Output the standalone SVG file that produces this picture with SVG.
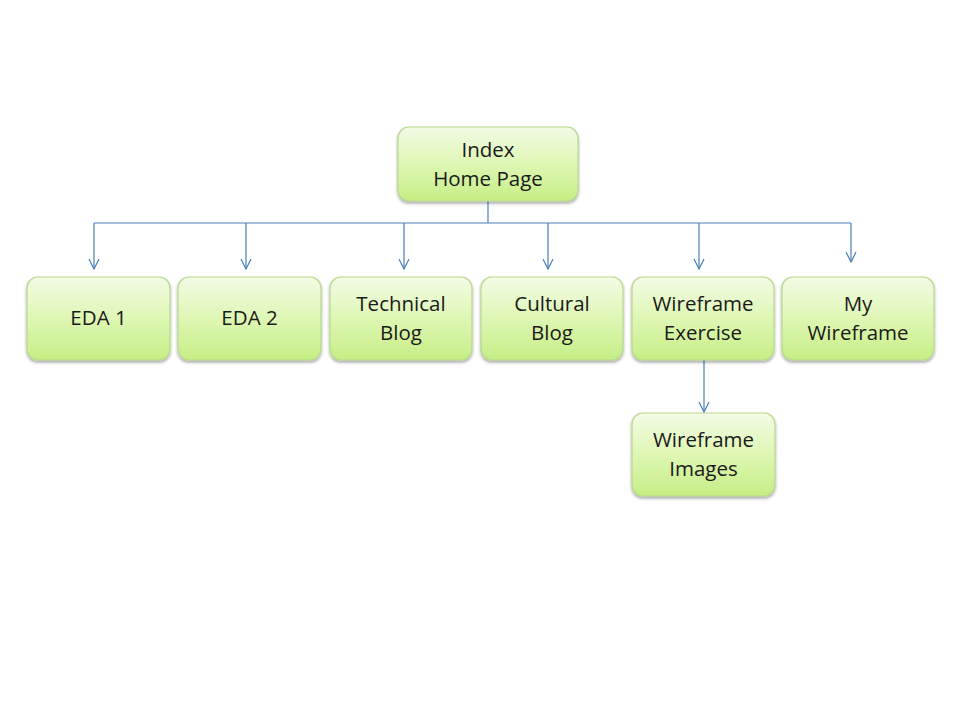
<svg xmlns="http://www.w3.org/2000/svg" width="960" height="720" viewBox="0 0 960 720">
<defs>
<linearGradient id="g" x1="0" y1="0" x2="0" y2="1">
<stop offset="0" stop-color="#f3fbe6"/>
<stop offset="0.5" stop-color="#def7b4"/>
<stop offset="1" stop-color="#c6ee84"/>
</linearGradient>
<filter id="sh" x="-10%" y="-10%" width="120%" height="130%">
<feDropShadow dx="0" dy="2" stdDeviation="1.5" flood-color="#000" flood-opacity="0.35"/>
</filter>
<marker id="a" viewBox="0 0 12 12" refX="11" refY="6" markerWidth="12" markerHeight="12" markerUnits="userSpaceOnUse" orient="auto">
<path d="M1,1 L11,6 L1,11" fill="none" stroke="#4a7ebb" stroke-width="1.2"/>
</marker>
</defs>
<style>
.box{fill:url(#g);stroke:#b7d88f;stroke-width:1.2;filter:url(#sh)}
.t{font-family:"Open Sans","Liberation Sans",sans-serif;font-size:20.5px;fill:#1a1a1a;text-anchor:middle}
.c{fill:none;stroke:#4a7ebb;stroke-width:1.2}
</style>
<rect width="960" height="720" fill="#fff"/>
<g id="connectors">
<path class="c" d="M488,201 V223"/>
<path class="c" d="M94,223 H851"/>
<path class="c" d="M94,223 V269" marker-end="url(#a)"/>
<path class="c" d="M246,223 V269" marker-end="url(#a)"/>
<path class="c" d="M404,223 V269" marker-end="url(#a)"/>
<path class="c" d="M548,223 V269" marker-end="url(#a)"/>
<path class="c" d="M699,223 V269" marker-end="url(#a)"/>
<path class="c" d="M851,223 V262" marker-end="url(#a)"/>
<path class="c" d="M704,360 V412" marker-end="url(#a)"/>
</g>
<g id="index"><rect class="box" x="398" y="127" width="180" height="74" rx="11"/><text class="t" x="488" y="157">Index</text><text class="t" x="488" y="186">Home Page</text></g>
<g id="eda1"><rect class="box" x="27" y="277" width="143" height="83" rx="11"/><text class="t" x="98.5" y="325">EDA 1</text></g>
<g id="eda2"><rect class="box" x="178" y="277" width="143" height="83" rx="11"/><text class="t" x="249.5" y="325">EDA 2</text></g>
<g id="technical"><rect class="box" x="330" y="277" width="142" height="83" rx="11"/><text class="t" x="401" y="311">Technical</text><text class="t" x="401" y="340">Blog</text></g>
<g id="cultural"><rect class="box" x="481" y="277" width="142" height="83" rx="11"/><text class="t" x="552" y="311">Cultural</text><text class="t" x="552" y="340">Blog</text></g>
<g id="wfexercise"><rect class="box" x="632" y="277" width="142" height="83" rx="11"/><text class="t" x="703" y="311">Wireframe</text><text class="t" x="703" y="340">Exercise</text></g>
<g id="mywireframe"><rect class="box" x="782" y="277" width="152" height="83" rx="11"/><text class="t" x="858" y="311">My</text><text class="t" x="858" y="340">Wireframe</text></g>
<g id="wfimages"><rect class="box" x="632" y="413" width="143" height="83" rx="11"/><text class="t" x="703.5" y="447">Wireframe</text><text class="t" x="703.5" y="476">Images</text></g>
</svg>
